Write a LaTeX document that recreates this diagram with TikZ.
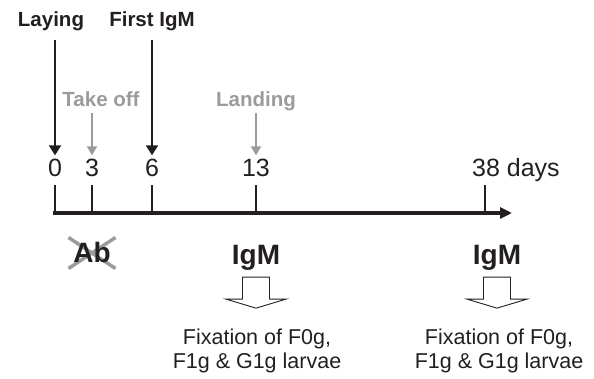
\documentclass[tikz,border=0pt]{standalone}
\usepackage{fontspec}
\setmainfont{Liberation Sans}
\usetikzlibrary{arrows.meta,positioning,backgrounds}
\definecolor{ink}{RGB}{35,31,32}
\definecolor{pale}{RGB}{155,155,155}
\tikzset{
  lab/.style={font=\fontsize{20.5}{24}\selectfont\bfseries, inner sep=0pt, anchor=base, text depth=5pt},
  num/.style={font=\fontsize{25}{30}\selectfont, inner sep=0pt, anchor=base, text=ink},
  big/.style={font=\fontsize{28}{32}\selectfont\bfseries, inner sep=0pt, anchor=base, text=ink},
  note/.style={font=\fontsize{21.5}{24}\selectfont, inner sep=0pt, align=center, anchor=north, text=ink},
  karr/.style={-{Triangle[length=10pt,width=12pt]}, line width=2pt, draw=ink, shorten <=8pt, shorten >=4pt},
  garr/.style={-{Triangle[length=9pt,width=10pt]}, line width=1.8pt, draw=pale, shorten <=1pt, shorten >=4pt},
  axis/.style={-{Triangle[length=12pt,width=11pt]}, line width=3.5pt, draw=ink},
  tick/.style={line width=2.5pt, draw=ink},
  hollow/.style={draw=ink, line width=0.9pt, fill=white},
  cross/.style={draw=pale, line width=3.5pt},
}
\begin{document}
\begin{tikzpicture}[x=1pt,y=1pt]
\useasboundingbox (0,0) rectangle (594,-379);
% days on the time line
\node[num] (n0) at (55,-177) {0};
\node[num] (n3) at (92,-177) {3};
\node[num] (n6) at (152,-177) {6};
\node[num] (n13) at (256,-177) {13};
\node[num, anchor=base west] (n38) at (472,-177) {38 days};
% events
\node[lab, text=ink] (lay) at (51,-27) {Laying};
\node[lab, text=ink] (fst) at (152,-27) {First IgM};
\node[lab, text=pale] (tko) at (101,-107) {Take off};
\node[lab, text=pale] (lnd) at (256,-107) {Landing};
\draw[karr] (lay.south -| n0.north) -- (n0.north);
\draw[karr] (fst.south -| n6.north) -- (n6.north);
\draw[garr] (tko.south -| n3.north) -- (n3.north);
\draw[garr] (lnd.south -| n13.north) -- (n13.north);
% axis
\coordinate (ax0) at (53,-213);
\coordinate (ax1) at (512,-213);
\coordinate (d38) at (485,-213);
\foreach \n in {n0,n3,n6,n13}
  \draw[tick] (\n |- ax0) -- ++(0,28);
\draw[tick] (d38) -- ++(0,28);
\draw[axis] (ax0) -- (ax1);
% below the axis
\node[big] (ab) at (92,-263) {Ab};
\begin{scope}[on background layer]
\draw[cross] (ab.center) ++(-23.5,15.5) -- ++(47,-31);
\draw[cross] (ab.center) ++(-23.5,-15.5) -- ++(47,31);
\end{scope}
\node[big] (igA) at (256,-265) {IgM};
\node[big] (igB) at (497,-265) {IgM};
\foreach \g in {igA,igB}
  \draw[hollow] ([xshift=-13.5pt,yshift=-6pt]\g.south) -- ++(0,-22) -- ++(-16.5,0)
    -- ++(30,-9) -- ++(30,9) -- ++(-16.5,0) -- ++(0,22) -- cycle;
\node[note] (fxA) at (257,-329) {Fixation of F0g,\\F1g \& G1g larvae};
\node[note] (fxB) at (499,-329) {Fixation of F0g,\\F1g \& G1g larvae};
\end{tikzpicture}
\end{document}
